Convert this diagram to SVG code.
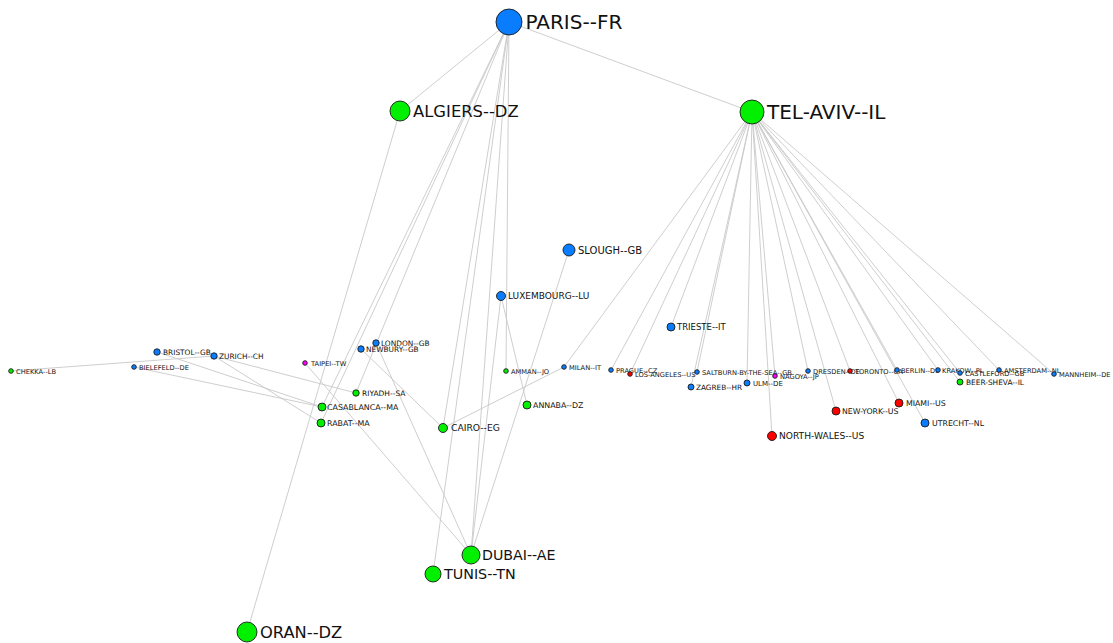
<svg xmlns="http://www.w3.org/2000/svg" width="1113" height="643" viewBox="0 0 1113 643">
<style>
.e line{stroke:#c8c8c8;stroke-width:0.9;fill:none}
circle{stroke:#1a1a1a;stroke-width:0.9}
.b{fill:#0a7dff}.g{fill:#00f000}.r{fill:#ff0000}.m{fill:#ff00ff}
text{font-family:"DejaVu Sans","Liberation Sans",sans-serif;fill:#111}
</style>
<rect width="1113" height="643" fill="#fff"/>
<g id="edges" class="e">
<line x1="509" y1="22" x2="400" y2="111"/>
<line x1="509" y1="22" x2="752" y2="112"/>
<line x1="509" y1="22" x2="322" y2="407"/>
<line x1="509" y1="22" x2="321" y2="423"/>
<line x1="509" y1="22" x2="356" y2="393"/>
<line x1="509" y1="22" x2="443" y2="428"/>
<line x1="509" y1="22" x2="433" y2="574"/>
<line x1="509" y1="22" x2="471" y2="555"/>
<line x1="509" y1="22" x2="506" y2="371"/>
<line x1="400" y1="111" x2="247" y2="632"/>
<line x1="501" y1="296" x2="527" y2="405"/>
<line x1="501" y1="296" x2="471" y2="555"/>
<line x1="569" y1="250" x2="471" y2="555"/>
<line x1="376" y1="343" x2="471" y2="555"/>
<line x1="305" y1="363" x2="471" y2="555"/>
<line x1="361" y1="349" x2="443" y2="428"/>
<line x1="443" y1="428" x2="564" y2="367"/>
<line x1="564" y1="367" x2="752" y2="112"/>
<line x1="11" y1="371" x2="214" y2="356"/>
<line x1="214" y1="356" x2="356" y2="393"/>
<line x1="214" y1="356" x2="321" y2="423"/>
<line x1="157" y1="352" x2="322" y2="407"/>
<line x1="134" y1="367" x2="322" y2="407"/>
<line x1="752" y1="112" x2="611" y2="370"/>
<line x1="752" y1="112" x2="630" y2="374"/>
<line x1="752" y1="112" x2="671" y2="327"/>
<line x1="752" y1="112" x2="697" y2="372"/>
<line x1="752" y1="112" x2="691" y2="387"/>
<line x1="752" y1="112" x2="747" y2="383"/>
<line x1="752" y1="112" x2="772" y2="436"/>
<line x1="752" y1="112" x2="775" y2="376"/>
<line x1="752" y1="112" x2="808" y2="371"/>
<line x1="752" y1="112" x2="836" y2="411"/>
<line x1="752" y1="112" x2="850" y2="371"/>
<line x1="752" y1="112" x2="899" y2="403"/>
<line x1="752" y1="112" x2="897" y2="370"/>
<line x1="752" y1="112" x2="925" y2="423"/>
<line x1="752" y1="112" x2="938" y2="370"/>
<line x1="752" y1="112" x2="960" y2="373"/>
<line x1="752" y1="112" x2="960" y2="382"/>
<line x1="752" y1="112" x2="999" y2="370"/>
<line x1="752" y1="112" x2="1054" y2="374"/>
</g>
<g id="paris"><circle class="b" cx="509" cy="22" r="13"/><text x="525.5" y="28.5" font-size="20">PARIS--FR</text></g>
<g id="telaviv"><circle class="g" cx="752" cy="112" r="12"/><text x="767" y="118.5" font-size="20">TEL-AVIV--IL</text></g>
<g id="algiers"><circle class="g" cx="400" cy="111" r="10"/><text x="413" y="116.5" font-size="16.4">ALGIERS--DZ</text></g>
<g id="oran"><circle class="g" cx="247" cy="632" r="10"/><text x="260" y="637.5" font-size="16.3">ORAN--DZ</text></g>
<g id="dubai"><circle class="g" cx="471" cy="555" r="9"/><text x="482" y="560" font-size="14.2">DUBAI--AE</text></g>
<g id="tunis"><circle class="g" cx="433" cy="574" r="8"/><text x="444" y="579" font-size="14.3">TUNIS--TN</text></g>
<g id="slough"><circle class="b" cx="569" cy="250" r="6"/><text x="578" y="253.5" font-size="10">SLOUGH--GB</text></g>
<g id="luxembourg"><circle class="b" cx="501" cy="296" r="4.5"/><text x="508" y="299.3" font-size="9">LUXEMBOURG--LU</text></g>
<g id="trieste"><circle class="b" cx="671" cy="327" r="4"/><text x="677" y="330" font-size="8.5">TRIESTE--IT</text></g>
<g id="cairo"><circle class="g" cx="443" cy="428" r="4.5"/><text x="451" y="431.3" font-size="9.2">CAIRO--EG</text></g>
<g id="northwales"><circle class="r" cx="772" cy="436" r="4.5"/><text x="779" y="439.3" font-size="9.1">NORTH-WALES--US</text></g>
<g id="casablanca"><circle class="g" cx="322" cy="407" r="4"/><text x="327" y="409.9" font-size="7.9">CASABLANCA--MA</text></g>
<g id="rabat"><circle class="g" cx="321" cy="423" r="4"/><text x="327" y="425.9" font-size="7.9">RABAT--MA</text></g>
<g id="annaba"><circle class="g" cx="527" cy="405" r="4"/><text x="533" y="407.9" font-size="7.9">ANNABA--DZ</text></g>
<g id="newyork"><circle class="r" cx="836" cy="411" r="4"/><text x="842" y="413.9" font-size="7.8">NEW-YORK--US</text></g>
<g id="miami"><circle class="r" cx="899" cy="403" r="4"/><text x="906" y="405.9" font-size="7.8">MIAMI--US</text></g>
<g id="utrecht"><circle class="b" cx="925" cy="423" r="4"/><text x="932" y="425.9" font-size="7.8">UTRECHT--NL</text></g>
<g id="riyadh"><circle class="g" cx="356" cy="393" r="3.2"/><text x="362" y="395.8" font-size="7.5">RIYADH--SA</text></g>
<g id="london"><circle class="b" cx="376" cy="343" r="3.2"/><text x="381" y="345.7" font-size="7.4">LONDON--GB</text></g>
<g id="newbury"><circle class="b" cx="361" cy="349" r="3.2"/><text x="366" y="351.7" font-size="7.4">NEWBURY--GB</text></g>
<g id="bristol"><circle class="b" cx="157" cy="352" r="3.2"/><text x="163" y="354.7" font-size="7.4">BRISTOL--GB</text></g>
<g id="zurich"><circle class="b" cx="214" cy="356" r="3.2"/><text x="219" y="358.7" font-size="7.4">ZURICH--CH</text></g>
<g id="zagreb"><circle class="b" cx="691" cy="387" r="3"/><text x="696" y="389.7" font-size="7.3">ZAGREB--HR</text></g>
<g id="ulm"><circle class="b" cx="747" cy="383" r="3"/><text x="753" y="385.6" font-size="7">ULM--DE</text></g>
<g id="beersheva"><circle class="g" cx="960" cy="382" r="3"/><text x="966" y="384.7" font-size="7.4">BEER-SHEVA--IL</text></g>
<g id="bielefeld"><circle class="b" cx="134" cy="367" r="2.3"/><text x="139" y="369.5" font-size="6.7">BIELEFELD--DE</text></g>
<g id="chekka"><circle class="g" cx="11" cy="371" r="2.3"/><text x="16" y="373.5" font-size="6.7">CHEKKA--LB</text></g>
<g id="taipei"><circle class="m" cx="305" cy="363" r="2.3"/><text x="311" y="365.5" font-size="6.7">TAIPEI--TW</text></g>
<g id="amman"><circle class="g" cx="506" cy="371" r="2.3"/><text x="511" y="373.5" font-size="6.7">AMMAN--JO</text></g>
<g id="milan"><circle class="b" cx="564" cy="367" r="2.3"/><text x="569" y="369.5" font-size="6.7">MILAN--IT</text></g>
<g id="prague"><circle class="b" cx="611" cy="370" r="2.3"/><text x="616" y="372.5" font-size="6.7">PRAGUE--CZ</text></g>
<g id="losangeles"><circle class="r" cx="630" cy="374" r="2.3"/><text x="635" y="376.5" font-size="6.7">LOS-ANGELES--US</text></g>
<g id="saltburn"><circle class="b" cx="697" cy="372" r="2.3"/><text x="702" y="374.5" font-size="6.7">SALTBURN-BY-THE-SEA--GB</text></g>
<g id="nagoya"><circle class="m" cx="775" cy="376" r="2.3"/><text x="780" y="378.5" font-size="6.7">NAGOYA--JP</text></g>
<g id="dresden"><circle class="b" cx="808" cy="371" r="2.3"/><text x="813" y="373.5" font-size="6.7">DRESDEN--DE</text></g>
<g id="toronto"><circle class="r" cx="850" cy="371" r="2.3"/><text x="855" y="373.5" font-size="6.7">TORONTO--CA</text></g>
<g id="berlin"><circle class="b" cx="897" cy="370" r="2.3"/><text x="901" y="372.5" font-size="6.7">BERLIN--DE</text></g>
<g id="krakow"><circle class="b" cx="938" cy="370" r="2.3"/><text x="942" y="372.5" font-size="6.7">KRAKOW--PL</text></g>
<g id="castleford"><circle class="b" cx="960" cy="373" r="2.3"/><text x="965" y="375.5" font-size="6.7">CASTLEFORD--GB</text></g>
<g id="amsterdam"><circle class="b" cx="999" cy="370" r="2.3"/><text x="1004" y="372.5" font-size="6.7">AMSTERDAM--NL</text></g>
<g id="mannheim"><circle class="b" cx="1054" cy="374" r="2.3"/><text x="1059" y="376.5" font-size="6.7">MANNHEIM--DE</text></g>
</svg>
